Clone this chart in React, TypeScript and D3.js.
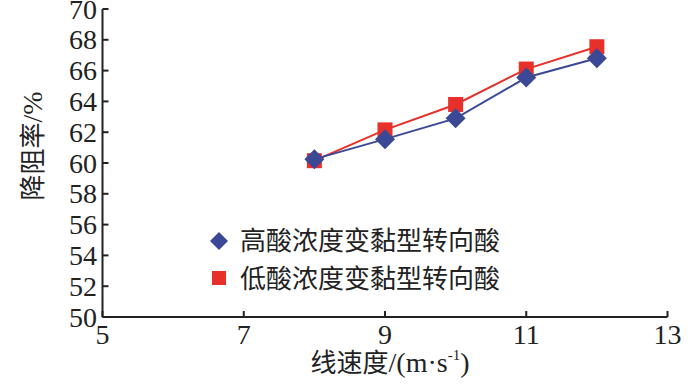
import React from "react";
import * as d3 from "d3";

const speeds = [8, 9, 10, 11, 12];
const highAcid = [60.25, 61.55, 62.9, 65.55, 66.8];
const lowAcid = [60.15, 62.15, 63.8, 66.1, 67.55];
const xTicks = [5, 7, 9, 11, 13];
const yTicks = [50, 52, 54, 56, 58, 60, 62, 64, 66, 68, 70];
const seriesNames = ["高酸浓度变黏型转向酸", "低酸浓度变黏型转向酸"];

const BLUE = "#3a4895";
const RED = "#e8302b";
const SERIF = "Liberation Serif, Tinos, Times New Roman, DejaVu Serif, serif";
const CJK = "Noto Sans CJK SC, sans-serif";

export default function App() {
  const W = 700, H = 384;
  const x = d3.scaleLinear().domain([5, 13]).range([102.5, 667.5]);
  const y = d3.scaleLinear().domain([50, 70]).range([317, 9]);
  const line = d3.line<number>().x((_, i) => x(speeds[i])).y((d) => y(d));
  const diamond = (cx: number, cy: number, r: number) =>
    `M${cx},${cy - r}L${cx + r},${cy}L${cx},${cy + r}L${cx - r},${cy}Z`;
  const sq = 15;
  const serifStyle = { fontFamily: SERIF };
  const cjkStyle = { fontFamily: CJK };
  return (
    <svg width={W} height={H} style={{ position: "absolute", left: 0, top: 0, background: "#fff" }}>
      {/* axes */}
      <line x1={x(5)} x2={x(13)} y1={y(50)} y2={y(50)} stroke="#222" strokeWidth={2} />
      <line x1={x(5)} x2={x(5)} y1={y(50)} y2={y(70)} stroke="#222" strokeWidth={2} />
      {xTicks.map((t) => (
        <g key={"x" + t}>
          <line x1={x(t)} x2={x(t)} y1={y(50)} y2={y(50) - 6} stroke="#222" strokeWidth={2} />
          <text x={x(t)} y={344} textAnchor="middle" style={serifStyle} fontSize={28} fill="#222">{t}</text>
        </g>
      ))}
      {yTicks.map((t) => (
        <g key={"y" + t}>
          <line x1={x(5)} x2={x(5) + 6} y1={y(t)} y2={y(t)} stroke="#222" strokeWidth={2} />
          <text x={97} y={y(t) + 9.5} textAnchor="end" style={serifStyle} fontSize={28} fill="#222">{t}</text>
        </g>
      ))}
      {/* lines */}
      <path d={line(lowAcid) || ""} fill="none" stroke={RED} strokeWidth={2} />
      <path d={line(highAcid) || ""} fill="none" stroke={BLUE} strokeWidth={2} />
      {lowAcid.map((v, i) => (
        <rect key={"r" + i} x={x(speeds[i]) - sq / 2} y={y(v) - sq / 2} width={sq} height={sq} fill={RED} />
      ))}
      {highAcid.map((v, i) => (
        <path key={"d" + i} d={diamond(x(speeds[i]), y(v), 10)} fill={BLUE} />
      ))}
      {/* legend */}
      <path d={diamond(219, 241, 9)} fill={BLUE} />
      <text x={240} y={250} style={cjkStyle} fontSize={26} fill="#222">{seriesNames[0]}</text>
      <rect x={212} y={271} width={14} height={14} fill={RED} />
      <text x={240} y={288} style={cjkStyle} fontSize={26} fill="#222">{seriesNames[1]}</text>
      {/* axis titles */}
      <text x={390} y={372} textAnchor="middle" fontSize={26} fill="#222">
        <tspan style={cjkStyle}>线速度</tspan>
        <tspan style={serifStyle} fontSize={28}>/(m·s</tspan>
        <tspan style={serifStyle} fontSize={15} dy={-12}>-1</tspan>
        <tspan style={serifStyle} fontSize={28} dy={12}>)</tspan>
      </text>
      <text transform={`translate(42,146) rotate(-90)`} textAnchor="middle" fontSize={26} fill="#222">
        <tspan style={cjkStyle}>降阻率</tspan>
        <tspan style={serifStyle} fontSize={28}>/%</tspan>
      </text>
    </svg>
  );
}
